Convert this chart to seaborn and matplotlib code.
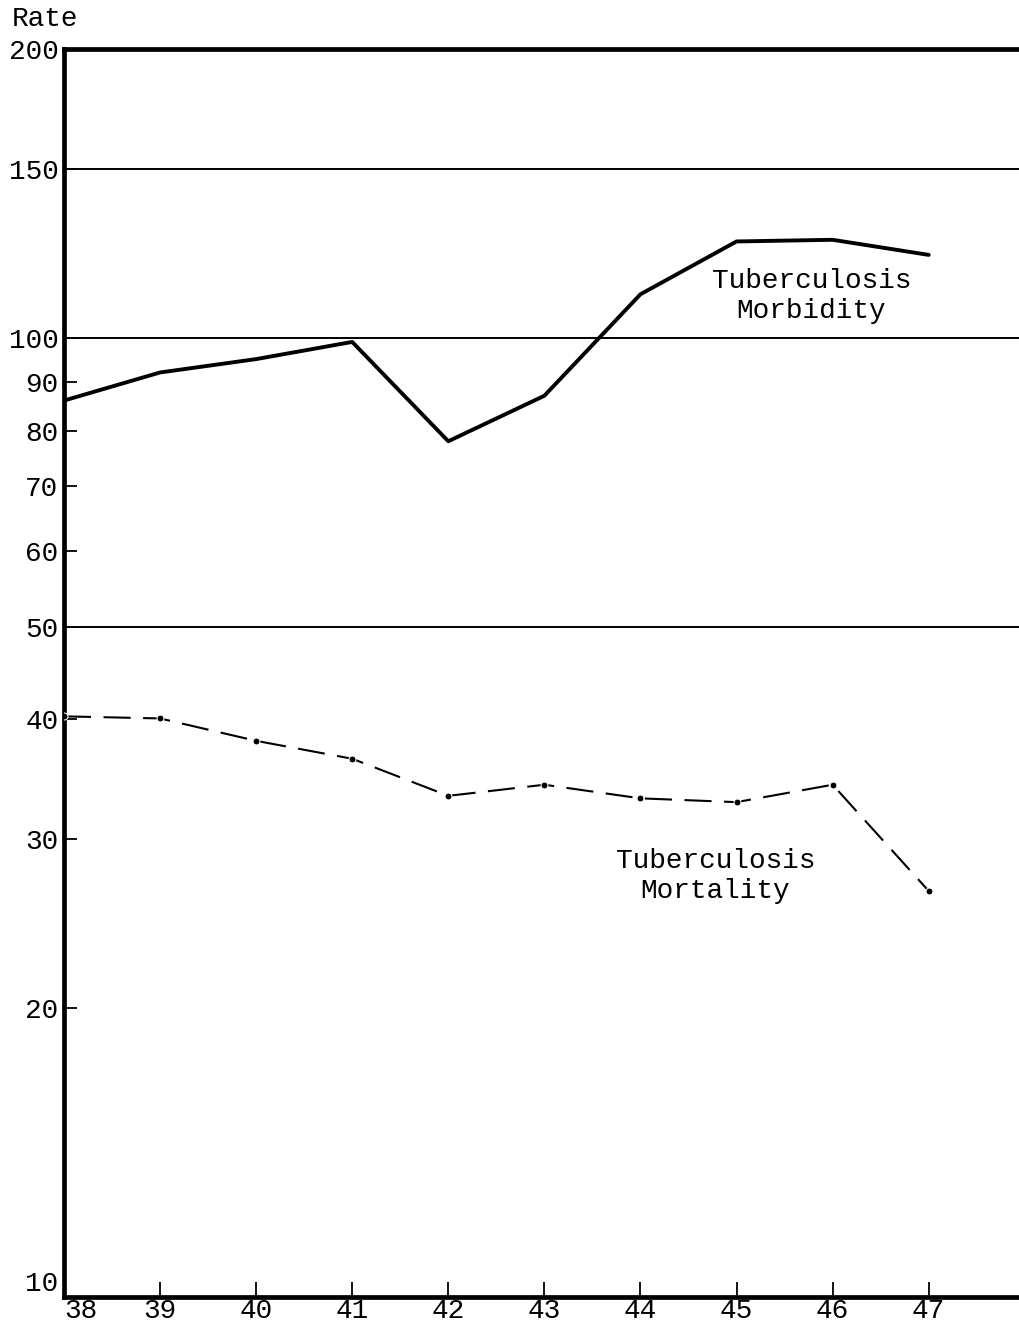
import numpy as np
import pandas as pd
import matplotlib.pyplot as plt
import seaborn as sns

years = [38, 39, 40, 41, 42, 43, 44, 45, 46, 47]
morbidity = [86, 92, 95, 99, 78, 87, 111, 126, 126.5, 122]
mortality = [40.3, 40.1, 38, 36.4, 33.3, 34.2, 33.1, 32.8, 34.2, 26.5]
y_ticks = [10, 20, 30, 40, 50, 60, 70, 80, 90, 100, 150, 200]
grid_lines = [50, 100, 150]

df = pd.DataFrame({'Year': years, 'Morbidity': morbidity, 'Mortality': mortality})

sns.set_theme(style="white")
plt.rcParams['font.family'] = ['Liberation Mono', 'DejaVu Sans Mono']
plt.rcParams['text.color'] = 'black'

fig = plt.figure(figsize=(10.2, 13.27), dpi=100, facecolor='white')
ax = fig.add_axes([0.0627, 0.0226, 0.9373, 0.9405])

for g in grid_lines:
    ax.axhline(g, color='black', lw=1.4, zorder=1)

sns.lineplot(data=df, x='Year', y='Morbidity', ax=ax, color='black', lw=2.8, zorder=3)
sns.lineplot(data=df, x='Year', y='Mortality', ax=ax, color='black', lw=1.5,
             marker='o', markersize=5, linestyle=(0, (13, 6)), zorder=3)

ax.set_yscale('log')
ax.set_ylim(10, 200)
ax.set_xlim(38, 47.95)
ax.set_yticks(y_ticks)
ax.set_yticklabels([str(v) for v in y_ticks])
ax.minorticks_off()
ax.set_xticks(years)
ax.set_xticklabels([str(y) for y in years])
ax.tick_params(axis='y', direction='in', length=9, width=1.3, labelsize=20, pad=4,
               left=True, colors='black')
ax.tick_params(axis='x', direction='in', length=11, width=1.3, labelsize=20, pad=1,
               bottom=True, colors='black')
ax.set_xlabel(None)
ax.set_ylabel(None)
ax.get_yticklabels()[0].set_va('bottom')
ax.get_xticklabels()[0].set_ha('left')

for side in ['left', 'bottom', 'top']:
    ax.spines[side].set_linewidth(3.4)
    ax.spines[side].set_color('black')
ax.spines['right'].set_visible(False)

fig.text(0.012, 0.986, 'Rate', fontsize=20, ha='left', va='center', color='black')
ax.text(45.78, 110.6, 'Tuberculosis\nMorbidity', fontsize=20, ha='center', va='center',
        linespacing=1.2, color='black')
ax.text(44.78, 27.5, 'Tuberculosis\nMortality', fontsize=20, ha='center', va='center',
        linespacing=1.2, color='black')

plt.savefig('out.png', dpi=100, facecolor='white')
